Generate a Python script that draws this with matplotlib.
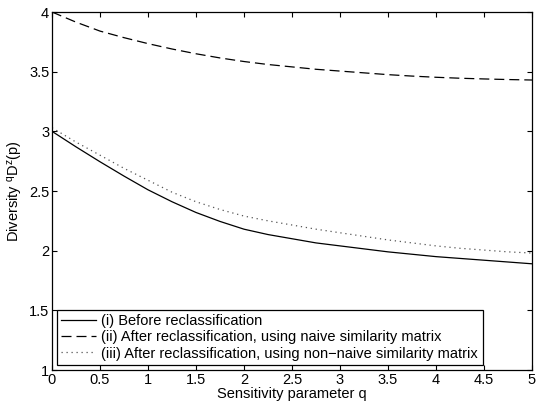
import matplotlib
matplotlib.use("Agg")
import matplotlib.pyplot as plt

plt.rcParams['font.family'] = ['Liberation Sans', 'DejaVu Sans']
plt.rcParams['mathtext.default'] = 'regular'

q = [0, 0.25, 0.5, 0.75, 1, 1.25, 1.5, 1.75, 2, 2.25, 2.5, 2.75, 3, 3.25,
     3.5, 3.75, 4, 4.25, 4.5, 4.75, 5]
before = [3.00, 2.87, 2.745, 2.625, 2.51, 2.41, 2.32, 2.245, 2.18, 2.135, 2.10,
          2.065, 2.04, 2.015, 1.99, 1.97, 1.95, 1.935, 1.92, 1.905, 1.89]
naive = [4.00, 3.915, 3.84, 3.785, 3.735, 3.69, 3.65, 3.615, 3.585, 3.56, 3.54,
         3.52, 3.505, 3.49, 3.475, 3.463, 3.453, 3.445, 3.439, 3.434, 3.43]
nonnaive = [3.03, 2.91, 2.80, 2.69, 2.59, 2.49, 2.41, 2.345, 2.29, 2.25, 2.215,
            2.18, 2.15, 2.12, 2.09, 2.065, 2.04, 2.02, 2.005, 1.99, 1.98]
labels = ['(i) Before reclassification',
          '(ii) After reclassification, using naive similarity matrix',
          '(iii) After reclassification, using non\u2212naive similarity matrix']

fig = plt.figure(figsize=(5.39, 4.04), dpi=100)
ax = fig.add_axes([52/539, 1-370/404, (532-52)/539, (370-12)/404])
ax.plot(q, before, color='black', lw=0.9, linestyle='-', label=labels[0])
ax.plot(q, naive, color='black', lw=0.9, linestyle=(0, (8, 4)), label=labels[1])
ax.plot(q, nonnaive, color='#555555', lw=0.9, linestyle=(0, (1, 3)), label=labels[2])

ax.set_xlim(0, 5)
ax.set_ylim(1, 4)
ax.set_xticks([0, 0.5, 1, 1.5, 2, 2.5, 3, 3.5, 4, 4.5, 5])
ax.set_xticklabels(['0', '0.5', '1', '1.5', '2', '2.5', '3', '3.5', '4', '4.5', '5'])
ax.set_yticks([1, 1.5, 2, 2.5, 3, 3.5, 4])
ax.set_yticklabels(['1', '1.5', '2', '2.5', '3', '3.5', '4'])
ax.tick_params(direction='in', top=True, right=True, length=3.6, width=0.8,
               labelsize=10.5, pad=2, colors='black')
for s in ax.spines.values():
    s.set_linewidth(0.9)

ax.set_xlabel('Sensitivity parameter q', fontsize=10.5, labelpad=0)
ax.set_ylabel('Diversity $^{q}$D$^{z}$(p)', fontsize=10.5, labelpad=3)

leg = ax.legend(loc='lower left', fontsize=10.5, frameon=True, fancybox=False,
                edgecolor='black', framealpha=1, borderpad=0.3, labelspacing=0.15,
                handlelength=2.4, handletextpad=0.34, borderaxespad=0.35)
leg.get_frame().set_linewidth(0.9)

fig.savefig('out.png', dpi=100)
